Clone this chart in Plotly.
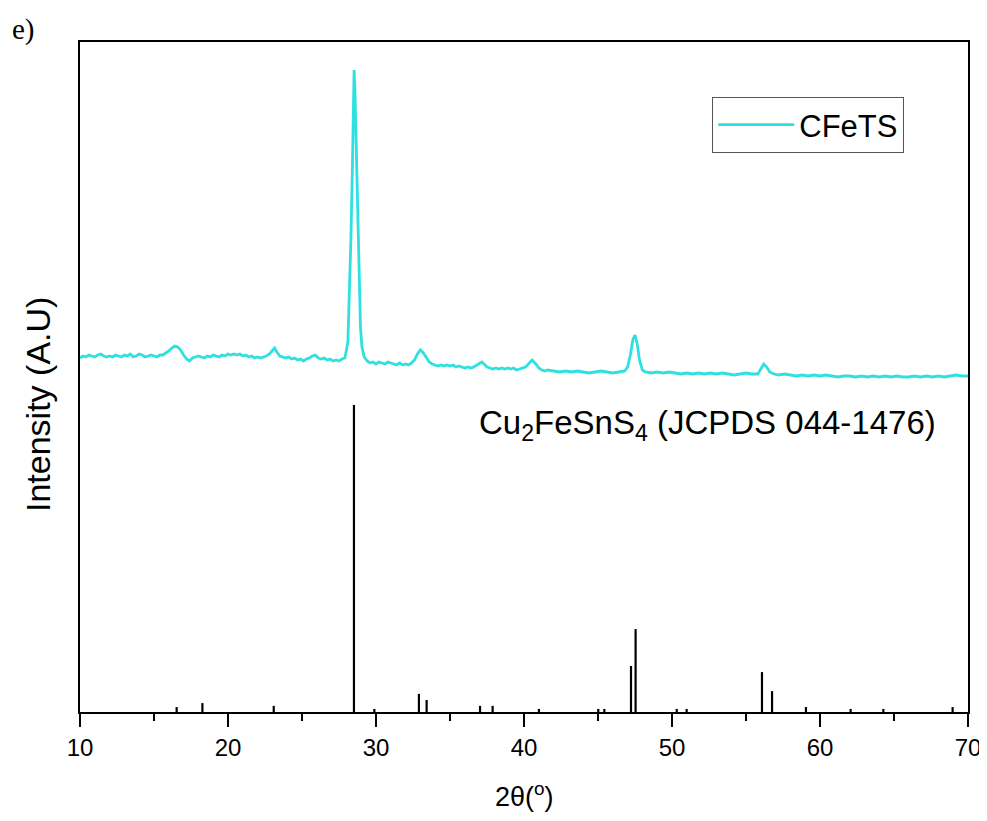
import plotly.graph_objects as go

# CFeTS measured XRD pattern (2theta in degrees, intensity in a.u.)
two_theta = [10.0, 10.2, 10.4, 10.6, 10.8, 11.0, 11.2, 11.4, 11.6, 11.8, 12.0, 12.2, 12.4, 12.6, 12.8,
             13.0, 13.2, 13.4, 13.6, 13.8, 14.0, 14.2, 14.4, 14.6, 14.8, 15.0, 15.2, 15.4, 15.6, 15.8,
             16.0, 16.2, 16.4, 16.6, 16.8, 17.0, 17.2, 17.4, 17.6, 17.8, 18.0, 18.2, 18.4, 18.6, 18.8,
             19.0, 19.2, 19.4, 19.6, 19.8, 20.0, 20.2, 20.4, 20.6, 20.8, 21.0, 21.2, 21.4, 21.6, 21.8,
             22.0, 22.2, 22.4, 22.6, 22.8, 23.0, 23.15, 23.3, 23.5, 23.7, 23.9, 24.1, 24.3, 24.5, 24.7,
             24.9, 25.1, 25.3, 25.5, 25.7, 25.9, 26.1, 26.3, 26.5, 26.7, 26.9, 27.1, 27.3, 27.5, 27.7,
             27.9, 28.1, 28.2, 28.3, 28.4, 28.48, 28.52, 28.58, 28.65, 28.75, 28.85, 28.95, 29.05, 29.2,
             29.4, 29.6, 29.8, 30.0, 30.2, 30.4, 30.6, 30.8, 31.0, 31.2, 31.4, 31.6, 31.8, 32.0, 32.2,
             32.4, 32.6, 32.8, 33.0, 33.2, 33.4, 33.6, 33.8, 34.0, 34.2, 34.4, 34.6, 34.8, 35.0, 35.2,
             35.4, 35.6, 35.8, 36.0, 36.2, 36.4, 36.6, 36.8, 37.0, 37.15, 37.3, 37.5, 37.7, 37.9, 38.1,
             38.3, 38.5, 38.7, 38.9, 39.1, 39.3, 39.5, 39.7, 39.9, 40.1, 40.3, 40.55, 40.8, 41.0, 41.2,
             41.4, 41.6, 42.0, 42.4, 42.8, 43.2, 43.6, 44.0, 44.4, 44.8, 45.2, 45.6, 46.0, 46.4, 46.8,
             47.0, 47.2, 47.35, 47.5, 47.65, 47.8, 48.0, 48.2, 48.6, 49.0, 49.4, 49.8, 50.2, 50.6, 51.0,
             51.4, 51.8, 52.2, 52.6, 53.0, 53.4, 53.8, 54.2, 54.6, 55.0, 55.4, 55.8, 56.0, 56.2, 56.4,
             56.6, 56.9, 57.2, 57.6, 58.0, 58.4, 58.8, 59.2, 59.6, 60.0, 60.4, 60.8, 61.2, 61.6, 62.0,
             62.4, 62.8, 63.2, 63.6, 64.0, 64.4, 64.8, 65.2, 65.6, 66.0, 66.4, 66.8, 67.2, 67.6, 68.0,
             68.4, 68.8, 69.2, 69.6, 70.0]
intensity = [354, 356, 355, 357, 356, 355, 357, 358, 356, 355, 356, 355, 357, 356, 355,
             357, 356, 358, 355, 356, 358, 357, 355, 356, 357, 356, 355, 357, 357, 359,
             361, 364, 366, 365, 362, 357, 353, 351, 354, 355, 356, 355, 354, 356, 355,
             357, 356, 355, 357, 356, 358, 357, 358, 357, 358, 356, 357, 355, 356, 354,
             355, 354, 355, 356, 358, 362, 364, 360, 356, 355, 354, 355, 353, 354, 352,
             353, 351, 353, 354, 356, 357, 354, 353, 354, 352, 353, 351, 352, 351, 353,
             354, 370, 410, 470, 540, 625, 642, 620, 570, 500, 430, 385, 365, 355,
             351, 349, 350, 348, 350, 349, 348, 350, 349, 348, 347, 349, 347, 348, 347,
             349, 352, 358, 362, 359, 354, 350, 348, 347, 346, 347, 346, 347, 346, 347,
             345, 346, 345, 344, 345, 344, 345, 347, 349, 350, 348, 345, 344, 343, 344,
             343, 344, 343, 344, 343, 344, 342, 343, 344, 345, 348, 352, 348, 344, 342,
             341, 342, 341, 340, 341, 340, 341, 340, 339, 340, 341, 340, 339, 340, 341,
             345, 358, 372, 377, 368, 352, 342, 340, 339, 340, 339, 340, 339, 338, 339,
             338, 339, 338, 339, 338, 339, 338, 337, 338, 339, 338, 338, 343, 348, 345,
             340, 338, 337, 338, 337, 336, 337, 336, 337, 336, 337, 336, 335, 336, 336,
             335, 336, 335, 336, 335, 336, 335, 336, 335, 335, 336, 335, 336, 335, 336,
             335, 336, 337, 336, 336]

# Reference pattern Cu2FeSnS4 (JCPDS 044-1476): positions and relative intensities (%)
ref_positions = [16.53, 18.27, 23.09, 28.51, 29.89, 32.90, 33.42, 37.03, 37.88, 41.01, 45.02,
                 45.43, 47.23, 47.54, 50.32, 50.99, 56.08, 56.76, 59.05, 62.07, 64.28, 68.96]
ref_rel_intensity = [1.6, 2.9, 2.0, 100.0, 1.0, 5.9, 3.9, 2.0, 2.0, 1.0, 1.0,
                     1.0, 15.0, 27.0, 1.0, 1.0, 13.0, 6.8, 1.6, 1.0, 1.0, 1.6]

x_ticks = [10, 20, 30, 40, 50, 60, 70]

REF_SCALE = 3.07  # a.u. per % of reference intensity

stick_x, stick_y = [], []
for p, h in zip(ref_positions, ref_rel_intensity):
    stick_x += [p, p, None]
    stick_y += [0, h * REF_SCALE, None]

fig = go.Figure()
fig.add_trace(go.Scatter(x=stick_x, y=stick_y, mode="lines",
                         line=dict(color="black", width=2.2), showlegend=False,
                         hoverinfo="skip"))
fig.add_trace(go.Scatter(x=two_theta, y=intensity, mode="lines", name="CFeTS",
                         line=dict(color="#2fe0e0", width=2.8)))

font_main = "Liberation Sans"

# page body has an 8px margin, so the figure is sized/offset to compensate
fig.update_layout(
    width=979, height=813,
    margin=dict(l=72, r=19, t=34, b=109, autoexpand=False),
    paper_bgcolor="white", plot_bgcolor="white",
    font=dict(family=font_main, color="black"),
    legend=dict(x=0.712, y=0.918, xanchor="left", yanchor="top",
                bordercolor="#555555", borderwidth=1, bgcolor="white",
                font=dict(size=31, family=font_main, color="black"),
                itemwidth=76, tracegroupgap=0),
    xaxis=dict(range=[10, 70], tickvals=x_ticks, ticktext=[str(v) for v in x_ticks],
               ticks="outside", ticklen=13, tickwidth=2, tickcolor="black",
               minor=dict(dtick=5, ticks="outside", ticklen=7, tickwidth=2, tickcolor="black"),
               showline=True, linewidth=2, linecolor="black", mirror=True,
               showgrid=False, zeroline=False, automargin=False,
               tickfont=dict(size=24, family=font_main, color="black")),
    yaxis=dict(range=[0, 670], showticklabels=False, ticks="",
               showline=True, linewidth=2, linecolor="black", mirror=True,
               showgrid=False, zeroline=False, automargin=False),
)

fig.add_annotation(x=0.501, y=-0.124, xref="paper", yref="paper", xanchor="center", yanchor="middle",
                   text="2θ(<sup>o</sup>)", showarrow=False,
                   font=dict(size=27, family=font_main, color="black"))
fig.add_annotation(x=-0.0473, y=0.4597, xref="paper", yref="paper", textangle=-90,
                   xanchor="center", yanchor="middle",
                   text="Intensity (A.U)", showarrow=False,
                   font=dict(size=34, family=font_main, color="black"))
fig.add_annotation(x=52.4, y=287, xref="x", yref="y", xanchor="center", yanchor="middle",
                   text="Cu<sub>2</sub>FeSnS<sub>4</sub> (JCPDS 044-1476)",
                   showarrow=False, font=dict(size=33, family=font_main, color="black"))
fig.add_annotation(x=-0.0788, y=1.018, xref="paper", yref="paper", xanchor="left", yanchor="middle",
                   text="e)", showarrow=False,
                   font=dict(size=29, family="Liberation Serif", color="black"))

fig.write_html("out.html")
